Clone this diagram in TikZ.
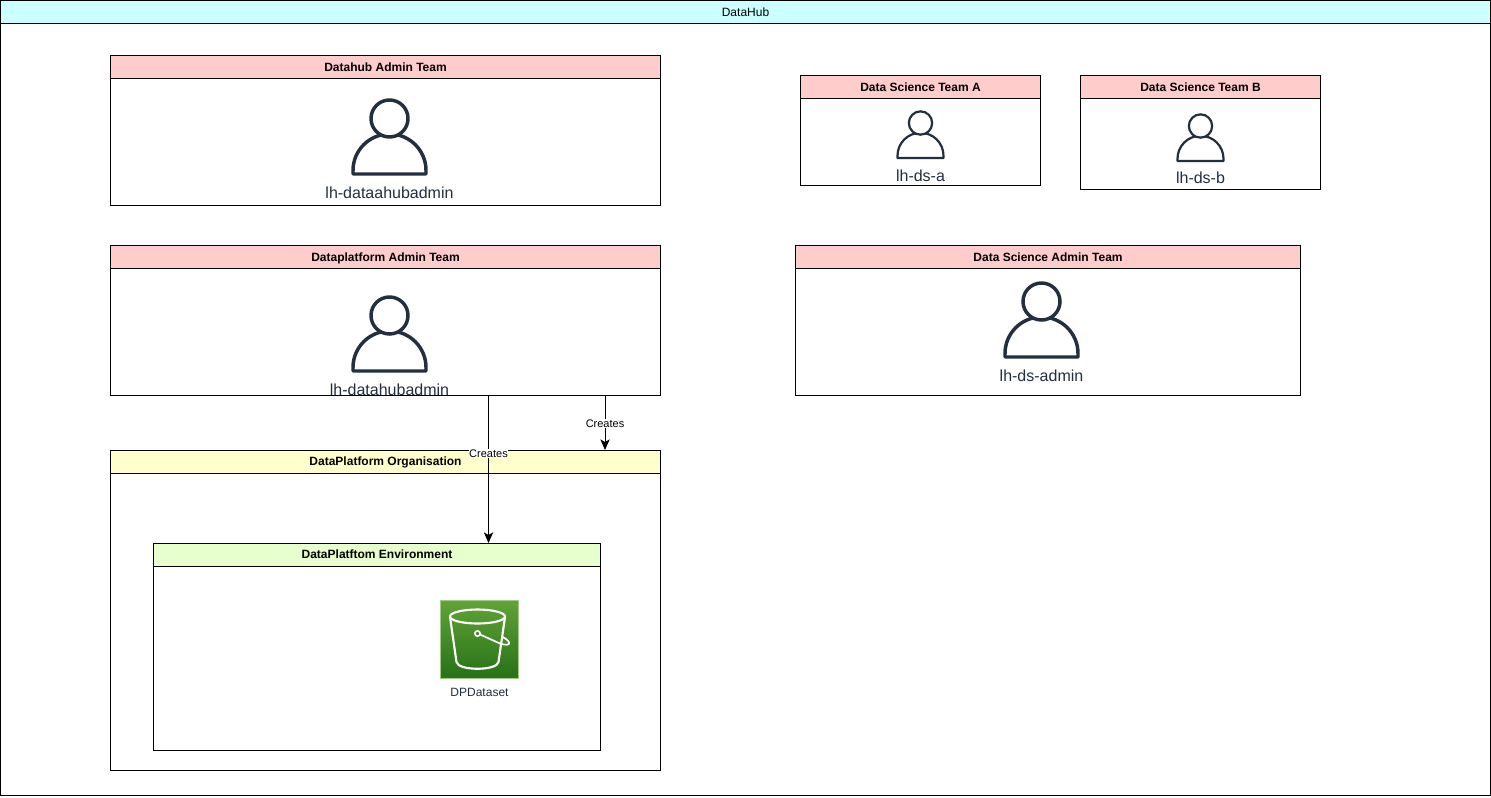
\documentclass[tikz,border=0pt]{standalone}
\usepackage{fontspec}
\setmainfont{Liberation Sans}
\usetikzlibrary{arrows.meta}

\definecolor{headcyan}{HTML}{CCFFFF}
\definecolor{headpink}{HTML}{FFCCCC}
\definecolor{headyellow}{HTML}{FFFFCC}
\definecolor{headgreen}{HTML}{E6FFCC}
\definecolor{awsink}{HTML}{232F3E}
\definecolor{bucketlight}{HTML}{60A337}
\definecolor{bucketdark}{HTML}{277116}

\def\px{0.75pt}

\tikzset{
  lane/.style={draw=black,line width=\px,fill=white,anchor=north west,inner sep=0pt,outer sep=0pt},
  lanehead/.style={lane,minimum height=23*\px,text height=7.4pt,text depth=0.7pt,font=\bfseries\fontsize{9}{11}\selectfont},
  userlabel/.style={text=awsink,inner sep=0pt,font=\fontsize{12}{14}\selectfont},
  flow/.style={draw=black,line width=\px,-{Stealth[length=8pt,width=7pt,inset=2pt]}},
  flowlabel/.style={fill=white,inner sep=0.5pt,yshift=-0.5pt,font=\fontsize{8.25}{10}\selectfont},
  person/.pic={
    \draw[awsink,fill=white,line width=#1,line join=round] (-36.5,55.5) -- (-36.5,52)
      arc[start angle=180,end angle=360,radius=36.5] -- (36.5,55.5) -- cycle;
    \draw[awsink,fill=white,line width=#1] (0,0) circle (18.5);
  }
}

\begin{document}
\begin{tikzpicture}[x=0.75pt,y=-0.75pt]
  \useasboundingbox (0,0) rectangle (1491,797);

  % DataHub (outer frame)
  \node[lane,minimum width=1490*\px,minimum height=795*\px] (datahub) at (0.5,0.5) {};
  \node[lanehead,minimum width=1490*\px,fill=headcyan] (datahubhead) at (datahub.north west) {\fontseries{m}\selectfont DataHub};

  % Datahub Admin Team
  \node[lane,minimum width=550*\px,minimum height=150*\px] (hubadmin) at (110.5,55.5) {};
  \node[lanehead,minimum width=550*\px,fill=headpink] (hubadminhead) at (hubadmin.north west) {Datahub Admin Team};
  \pic at (389.5,118.5) {person=2.6pt};
  \node[userlabel] (hubadminuser) at (389.5,193) {lh-dataahubadmin};

  % Data Science Team A
  \node[lane,minimum width=240*\px,minimum height=110*\px] (teama) at (800.5,75.5) {};
  \node[lanehead,minimum width=240*\px,fill=headpink] (teamahead) at (teama.north west) {Data Science Team A};
  \pic[scale=0.63] at (920.5,123) {person=1.65pt};
  \node[userlabel] (teamauser) at (920.5,175.5) {lh-ds-a};

  % Data Science Team B
  \node[lane,minimum width=240*\px,minimum height=114*\px] (teamb) at (1080.5,75.5) {};
  \node[lanehead,minimum width=240*\px,fill=headpink] (teambhead) at (teamb.north west) {Data Science Team B};
  \pic[scale=0.63] at (1200.5,126) {person=1.65pt};
  \node[userlabel] (teambuser) at (1200.5,178) {lh-ds-b};

  % Dataplatform Admin Team
  \node[lane,minimum width=550*\px,minimum height=150*\px] (platadmin) at (110.5,245.5) {};
  \node[lanehead,minimum width=550*\px,fill=headpink] (platadminhead) at (platadmin.north west) {Dataplatform Admin Team};
  \pic at (389.5,315.5) {person=2.6pt};
  \node[userlabel] (platadminuser) at (389.5,390) {lh-datahubadmin};

  % Data Science Admin Team
  \node[lane,minimum width=505*\px,minimum height=150*\px] (dsadmin) at (795.5,245.5) {};
  \node[lanehead,minimum width=505*\px,fill=headpink] (dsadminhead) at (dsadmin.north west) {Data Science Admin Team};
  \pic at (1041.5,301.5) {person=2.6pt};
  \node[userlabel] (dsadminuser) at (1041.5,376) {lh-ds-admin};

  % DataPlatform Organisation
  \node[lane,minimum width=550*\px,minimum height=320*\px] (platorg) at (110.5,450) {};
  \node[lanehead,minimum width=550*\px,fill=headyellow] (platorghead) at (platorg.north west) {DataPlatform Organisation};

  % DataPlatftom Environment
  \node[lane,minimum width=447*\px,minimum height=207*\px] (platenv) at (153.5,543) {};
  \node[lanehead,minimum width=447*\px,fill=headgreen] (platenvhead) at (platenv.north west) {DataPlatftom Environment};

  % DPDataset bucket
  \node[draw=bucketlight!60!white,line width=\px,top color=bucketlight,bottom color=bucketdark,
    minimum size=78*\px,inner sep=0pt,anchor=north west] (bucket) at (440,600) {};
  \draw[white,line width=1.6pt,line join=round] (477.5,616.5) ellipse (27.5 and 7);
  \draw[white,line width=1.6pt,line join=round] (450,617) -- (456.5,662)
    .. controls (458,671) and (497,671) .. (498.5,662) -- (505,617);
  \draw[white,line width=1.3pt,fill=bucketdark!80!bucketlight] (477.5,633.5) circle (2.6);
  \draw[white,line width=1.3pt] (480,634.5) -- (500,643.5)
    .. controls (506,645.5) and (510,645) .. (509,642.5)
    .. controls (508.5,640.5) and (505,638) .. (502,636.5);
  \node[userlabel,font=\fontsize{9}{11}\selectfont] (bucketlabel) at (479.5,692) {DPDataset};

  % Creates arrows
  \coordinate (orgdrop) at (605,450);
  \coordinate (envdrop) at (488.5,543);
  \draw[flow] (platadmin.south -| orgdrop) -- node[flowlabel] (createsorg) {Creates} (orgdrop);
  \draw[flow] (platadmin.south -| envdrop) -- node[flowlabel,pos=0.39] (createsenv) {Creates} (envdrop);
\end{tikzpicture}
\end{document}
